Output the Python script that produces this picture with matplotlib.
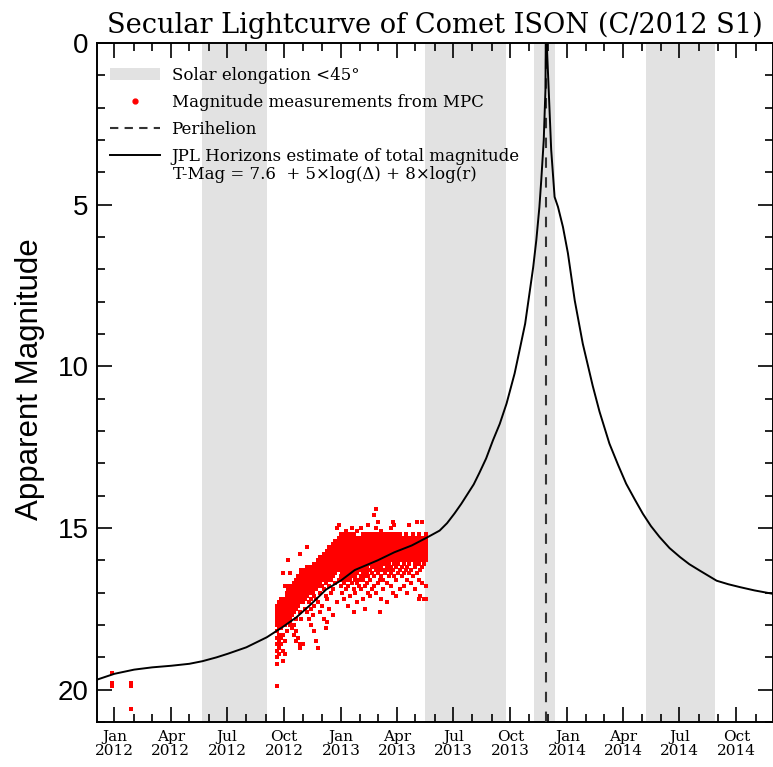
import numpy as np
import matplotlib
matplotlib.use('Agg')
import matplotlib.pyplot as plt
import matplotlib.dates as mdates
from matplotlib.patches import Patch
from matplotlib.lines import Line2D

# periods with solar elongation < 45 deg
elong_start = ['2012-05-22', '2013-05-17', '2013-11-08', '2014-05-08']
elong_end = ['2012-09-04', '2013-09-24', '2013-12-12', '2014-08-28']

perihelion = '2013-11-28'

# JPL Horizons total magnitude curve
horizons_date = ['2011-12-04', '2012-01-01', '2012-02-02', '2012-03-02', '2012-04-02',
                 '2012-05-01', '2012-05-22', '2012-06-14', '2012-07-02', '2012-08-01',
                 '2012-09-03', '2012-09-28', '2012-10-21', '2012-11-11', '2012-12-08',
                 '2013-01-01', '2013-01-23', '2013-03-01', '2013-03-28', '2013-04-25',
                 '2013-05-19', '2013-06-09', '2013-06-21', '2013-07-03', '2013-07-14',
                 '2013-07-24', '2013-08-03', '2013-08-12', '2013-08-23', '2013-09-03',
                 '2013-09-14', '2013-09-25', '2013-10-08', '2013-10-16', '2013-10-25',
                 '2013-11-01', '2013-11-07', '2013-11-12', '2013-11-17', '2013-11-20',
                 '2013-11-24', '2013-11-26T18', '2013-11-28T00', '2013-11-29T12', '2013-12-02',
                 '2013-12-06', '2013-12-11T12', '2013-12-17', '2013-12-25', '2014-01-02',
                 '2014-01-13', '2014-01-26', '2014-02-11', '2014-02-22', '2014-03-10',
                 '2014-03-24', '2014-04-06', '2014-04-20', '2014-05-03', '2014-05-16',
                 '2014-05-30', '2014-06-15', '2014-07-02', '2014-07-17', '2014-08-03',
                 '2014-08-30', '2014-09-18', '2014-10-07', '2014-10-30', '2014-11-30']
horizons_mag = [19.69, 19.51, 19.38, 19.31, 19.26,
                19.20, 19.12, 19.00, 18.89, 18.69,
                18.38, 18.07, 17.76, 17.40, 16.90,
                16.62, 16.30, 16.00, 15.75, 15.54,
                15.30, 15.08, 14.85, 14.55, 14.25,
                13.95, 13.65, 13.30, 12.85, 12.29,
                11.78, 11.15, 10.22, 9.50, 8.68,
                7.74, 6.93, 6.10, 5.07, 4.24,
                3.00, 1.45, -2.0, 0.30, 1.45,
                3.30, 4.76, 5.07, 5.69, 6.50,
                7.96, 9.30, 10.60, 11.40, 12.39,
                13.05, 13.63, 14.12, 14.56, 14.94,
                15.28, 15.62, 15.90, 16.12, 16.32,
                16.63, 16.74, 16.83, 16.93, 17.04]

# MPC magnitude measurements, one entry per night
night_date = ['2011-12-29', '2012-01-28',
              '2012-09-20', '2012-09-23', '2012-09-26', '2012-09-29', '2012-10-02', '2012-10-05',
              '2012-10-08', '2012-10-11', '2012-10-14', '2012-10-17', '2012-10-20', '2012-10-23',
              '2012-10-26', '2012-10-29', '2012-11-01', '2012-11-04', '2012-11-07', '2012-11-10',
              '2012-11-13', '2012-11-16', '2012-11-19', '2012-11-22', '2012-11-25', '2012-11-28',
              '2012-12-01', '2012-12-04', '2012-12-07', '2012-12-10', '2012-12-13', '2012-12-16',
              '2012-12-19', '2012-12-22', '2012-12-25', '2012-12-28', '2012-12-31', '2013-01-03',
              '2013-01-06', '2013-01-09', '2013-01-12', '2013-01-15', '2013-01-18', '2013-01-21',
              '2013-01-24', '2013-01-27', '2013-01-30', '2013-02-02', '2013-02-05', '2013-02-08',
              '2013-02-11', '2013-02-14', '2013-02-17', '2013-02-20', '2013-02-23', '2013-02-26',
              '2013-03-01', '2013-03-04', '2013-03-07', '2013-03-10', '2013-03-13', '2013-03-16',
              '2013-03-19', '2013-03-22', '2013-03-25', '2013-03-28', '2013-03-31', '2013-04-03',
              '2013-04-06', '2013-04-09', '2013-04-12', '2013-04-15', '2013-04-18', '2013-04-21',
              '2013-04-24', '2013-04-27', '2013-04-30', '2013-05-03', '2013-05-06', '2013-05-09',
              '2013-05-12', '2013-05-15', '2013-05-18']
night_mag = [
    '19.5 19.8 19.9', '19.8 19.9 20.6',
    '17.4 17.5 17.6 17.7 17.8 17.9 18.0 18.2 18.4 18.6 18.8 19.0 19.2 19.9',
    '17.3 17.4 17.5 17.6 17.7 17.8 17.9 18.0 18.1 18.3 18.5 18.7 18.9',
    '17.2 17.3 17.5 17.6 17.7 17.8 17.9 18.0 18.1 18.4 18.6',
    '16.4 17.3 17.4 17.5 17.6 17.7 17.8 17.9 18.0 18.3 18.8 19.1',
    '16.8 17.2 17.3 17.4 17.5 17.6 17.7 17.8 18.0 18.5 18.9',
    '17.0 17.1 17.2 17.4 17.5 17.6 17.7 17.8 17.9 18.2',
    '16.0 16.8 16.9 17.0 17.1 17.2 17.3 17.4 17.6 17.7 17.8',
    '16.4 16.9 17.0 17.1 17.2 17.3 17.5 17.6 17.7 17.8 17.9 18.0',
    '16.8 16.9 17.0 17.2 17.3 17.4 17.5 17.6 17.7 18.1',
    '16.7 16.8 16.9 17.0 17.1 17.2 17.3 17.4 17.6 18.0 18.3',
    '16.6 16.7 16.8 17.0 17.1 17.2 17.3 17.5 17.8 18.2 18.5',
    '16.5 16.6 16.7 16.8 16.9 17.0 17.1 17.2 17.4 18.4',
    '15.8 16.5 16.6 16.7 16.8 17.0 17.1 17.2 17.3 17.6 18.6 18.7',
    '16.3 16.4 16.5 16.6 16.7 16.8 16.9 17.0 17.2 17.8',
    '16.3 16.4 16.5 16.6 16.7 16.8 16.9 17.0 17.1 17.3 18.6',
    '16.3 16.4 16.5 16.6 16.7 16.8 16.9 17.0 17.2 17.5',
    '15.6 16.2 16.3 16.5 16.6 16.7 16.8 16.9 17.1 17.6',
    '16.2 16.3 16.4 16.5 16.7 16.8 16.9 17.0 17.3 17.8',
    '16.3 16.4 16.5 16.6 16.7 16.9 17.0 17.2 17.5 18.0',
    '16.2 16.3 16.4 16.5 16.6 16.7 16.8 17.0 17.7',
    '16.1 16.2 16.4 16.5 16.6 16.8 16.9 17.1 17.4 18.2',
    '16.1 16.2 16.3 16.4 16.5 16.6 16.7 16.9 17.2 18.5',
    '16.0 16.1 16.2 16.3 16.4 16.5 16.7 16.8 17.3 18.7',
    '15.9 16.0 16.1 16.2 16.3 16.4 16.6 16.7 17.0 17.6',
    '15.9 16.0 16.1 16.2 16.3 16.5 16.6 16.8 17.4',
    '15.8 15.9 16.0 16.1 16.2 16.3 16.4 16.6 16.9 17.8',
    '15.8 15.9 16.0 16.1 16.2 16.3 16.5 16.7 17.1 18.1',
    '15.7 15.8 15.9 16.0 16.1 16.2 16.3 16.4 16.6 17.2 17.9',
    '15.6 15.7 15.8 15.9 16.0 16.1 16.2 16.3 16.5 16.8 17.5',
    '15.6 15.7 15.8 15.9 16.0 16.1 16.2 16.4 16.6 17.0',
    '15.5 15.6 15.7 15.8 15.9 16.0 16.1 16.3 16.5 16.9 17.7',
    '15.4 15.5 15.6 15.7 15.8 15.9 16.0 16.2 16.4 16.7',
    '15.0 15.4 15.5 15.6 15.7 15.8 15.9 16.0 16.1 16.3 17.3',
    '14.9 15.3 15.4 15.5 15.6 15.7 15.8 15.9 16.0 16.2 16.6',
    '15.2 15.3 15.4 15.5 15.6 15.7 15.8 15.9 16.0 16.1 16.3 16.5 16.8',
    '15.2 15.3 15.4 15.5 15.6 15.7 15.8 15.9 16.0 16.1 16.2 16.4 16.6 17.0',
    '15.3 15.4 15.5 15.6 15.7 15.8 15.9 16.0 16.1 16.2 16.3 16.5 16.7 17.2',
    '15.1 15.2 15.3 15.4 15.5 15.6 15.7 15.8 15.9 16.0 16.1 16.2 16.4 16.6 16.9',
    '15.2 15.3 15.4 15.5 15.6 15.7 15.8 15.9 16.0 16.2 16.3 16.5 16.8 17.4',
    '15.3 15.4 15.5 15.6 15.7 15.8 15.9 16.0 16.1 16.2 16.4 16.6 17.1',
    '15.0 15.2 15.3 15.4 15.5 15.6 15.7 15.8 15.9 16.0 16.1 16.3 16.5 16.7',
    '15.2 15.3 15.4 15.5 15.6 15.7 15.8 15.9 16.0 16.1 16.2 16.4 16.9 17.6',
    '15.3 15.4 15.5 15.6 15.7 15.8 15.9 16.0 16.1 16.3 16.5 16.6 17.0',
    '15.1 15.3 15.4 15.5 15.6 15.7 15.8 15.9 16.0 16.2 16.4 16.7 17.3',
    '15.3 15.4 15.5 15.6 15.7 15.8 15.9 16.0 16.1 16.2 16.3 16.6 16.8',
    '15.0 15.3 15.4 15.5 15.6 15.7 15.8 15.9 16.0 16.1 16.3 16.5 16.9',
    '15.2 15.3 15.4 15.5 15.6 15.7 15.8 16.0 16.1 16.2 16.4 16.6 17.2',
    '15.3 15.4 15.5 15.6 15.7 15.8 15.9 16.0 16.1 16.3 16.5 16.8 17.5',
    '15.2 15.3 15.4 15.5 15.6 15.7 15.8 15.9 16.0 16.2 16.4 16.7',
    '14.9 15.3 15.4 15.5 15.6 15.7 15.8 15.9 16.0 16.1 16.3 16.5 17.0',
    '15.2 15.3 15.4 15.5 15.6 15.7 15.8 15.9 16.0 16.1 16.3 16.6 17.1',
    '15.3 15.4 15.5 15.6 15.7 15.8 15.9 16.0 16.1 16.2 16.4 16.9',
    '14.6 15.2 15.3 15.4 15.5 15.6 15.7 15.8 15.9 16.0 16.2 16.5 16.8',
    '14.4 15.0 15.2 15.3 15.4 15.5 15.6 15.7 15.8 15.9 16.1 16.3 17.0',
    '14.8 15.2 15.3 15.4 15.5 15.6 15.7 15.8 15.9 16.0 16.2 16.4 16.7',
    '15.2 15.3 15.4 15.5 15.6 15.7 15.8 15.9 16.0 16.1 16.3 16.6 17.6',
    '15.1 15.3 15.4 15.5 15.6 15.7 15.8 15.9 16.0 16.2 16.5 17.2',
    '15.2 15.3 15.4 15.5 15.6 15.7 15.8 15.9 16.1 16.3 16.6 16.9',
    '15.3 15.4 15.5 15.6 15.7 15.8 15.9 16.0 16.1 16.3 16.4',
    '15.2 15.3 15.4 15.5 15.6 15.7 15.8 15.9 16.0 16.2 16.7 17.3',
    '15.2 15.3 15.4 15.5 15.6 15.7 15.8 15.9 16.0 16.1 16.3 16.5',
    '15.0 15.3 15.4 15.5 15.6 15.7 15.8 15.9 16.0 16.2 16.4 16.8',
    '14.8 15.2 15.3 15.4 15.5 15.6 15.7 15.8 15.9 16.0 16.3 17.0',
    '14.9 15.3 15.4 15.5 15.6 15.7 15.8 15.9 16.0 16.1 16.5',
    '15.2 15.3 15.4 15.5 15.6 15.7 15.8 15.9 16.0 16.2 16.6 17.1',
    '15.3 15.4 15.5 15.6 15.7 15.8 15.9 16.0 16.1 16.4',
    '15.2 15.3 15.4 15.5 15.6 15.7 15.8 15.9 16.0 16.3 16.9',
    '15.3 15.4 15.5 15.6 15.7 15.8 15.9 16.0 16.2 16.5',
    '15.3 15.4 15.5 15.6 15.7 15.8 15.9 16.0 16.1 16.4 16.8',
    '15.2 15.3 15.4 15.5 15.6 15.7 15.8 15.9 16.0 16.3',
    '15.3 15.4 15.5 15.6 15.7 15.8 15.9 16.0 16.2 16.6 17.0',
    '14.9 15.3 15.4 15.5 15.6 15.7 15.8 15.9 16.0 16.1 16.4',
    '15.3 15.4 15.5 15.6 15.7 15.8 15.9 16.0 16.3 16.7',
    '15.2 15.3 15.4 15.5 15.6 15.7 15.8 15.9 16.0 16.5',
    '15.3 15.4 15.5 15.6 15.7 15.8 15.9 16.0 16.1 16.2 16.9',
    '14.8 15.3 15.4 15.5 15.6 15.7 15.8 15.9 16.0 16.4',
    '15.2 15.3 15.4 15.5 15.6 15.7 15.8 15.9 16.1 16.6 17.2',
    '15.3 15.4 15.5 15.6 15.7 15.8 15.9 16.0 16.3 17.1',
    '14.8 15.3 15.4 15.5 15.6 15.7 15.8 15.9 16.0 16.2 16.7',
    '15.3 15.4 15.5 15.6 15.7 15.8 15.9 16.1 17.2',
    '15.2 15.3 15.4 15.5 15.6 15.7 15.8 15.9 16.0 16.8 17.2',
]

obs_t = []
obs_m = []
for d, ms in zip(night_date, night_mag):
    for m in ms.split():
        obs_t.append(np.datetime64(d))
        obs_m.append(float(m))

serif = 'DejaVu Serif'
sans = 'Liberation Sans'
band_col = '#e2e2e2'

fig = plt.figure(figsize=(7.73, 7.67), dpi=100)
ax = fig.add_axes([97 / 773, 45 / 767, 676 / 773, 679 / 767])

for s, e in zip(elong_start, elong_end):
    ax.axvspan(np.datetime64(s), np.datetime64(e), color=band_col, lw=0, zorder=0)

ax.scatter(obs_t, obs_m, s=5.2, marker='s', c='#ff0000', linewidths=0, zorder=2)
ax.axvline(np.datetime64(perihelion), color='#333333', lw=1.5, ls=(0, (5, 4.5)), zorder=3)
ax.plot(np.array(horizons_date, dtype='datetime64[h]'), horizons_mag,
        color='black', lw=1.4, zorder=4)

ax.set_xlim(np.datetime64('2011-12-04'), np.datetime64('2014-11-29'))
ax.set_ylim(21, 0)

ax.xaxis.set_major_locator(mdates.MonthLocator(bymonth=[1, 4, 7, 10]))
ax.xaxis.set_minor_locator(mdates.MonthLocator())
ax.xaxis.set_major_formatter(mdates.DateFormatter('%b\n%Y'))
ax.set_yticks([0, 5, 10, 15, 20])
ax.set_yticks(range(0, 22), minor=True)

ax.tick_params(which='both', direction='in', top=True, right=True, width=1.2, color='black')
ax.tick_params(which='major', length=11)
ax.tick_params(which='minor', length=5.5)
ax.tick_params(axis='x', pad=6)
ax.tick_params(axis='y', pad=6)
for lab in ax.get_xticklabels():
    lab.set_fontfamily(serif)
    lab.set_fontsize(11)
    lab.set_linespacing(1.0)
for lab in ax.get_yticklabels():
    lab.set_fontfamily(sans)
    lab.set_fontsize(20)
for sp in ax.spines.values():
    sp.set_linewidth(1.4)

ax.set_ylabel('Apparent Magnitude', fontfamily=sans, fontsize=22.5)
ax.yaxis.set_label_coords(-0.077, 0.505)
ax.set_title('Secular Lightcurve of Comet ISON (C/2012 S1)', fontfamily=serif,
             fontsize=19.6, pad=7)

handles = [Patch(facecolor=band_col, edgecolor='none'),
           Line2D([], [], ls='none', marker='o', ms=3.5, color='#ff0000'),
           Line2D([], [], color='#333333', lw=1.5, ls=(0, (4, 3))),
           Line2D([], [], color='black', lw=1.4)]
labels = ['Solar elongation <45°', 'Magnitude measurements from MPC', 'Perihelion',
          'JPL Horizons estimate of total magnitude']
ax.legend(handles, labels, loc='upper left', bbox_to_anchor=(0.019, 0.965), frameon=False,
          borderpad=0, borderaxespad=0, handlelength=3.0, handleheight=0.8,
          handletextpad=0.7, labelspacing=0.6, prop={'family': serif, 'size': 12})
ax.text(0.1124, 0.806, 'T-Mag = 7.6  + 5×log(Δ) + 8×log(r)', transform=ax.transAxes,
        fontfamily=serif, fontsize=12, va='center', ha='left')

fig.savefig('out.png', dpi=100)
